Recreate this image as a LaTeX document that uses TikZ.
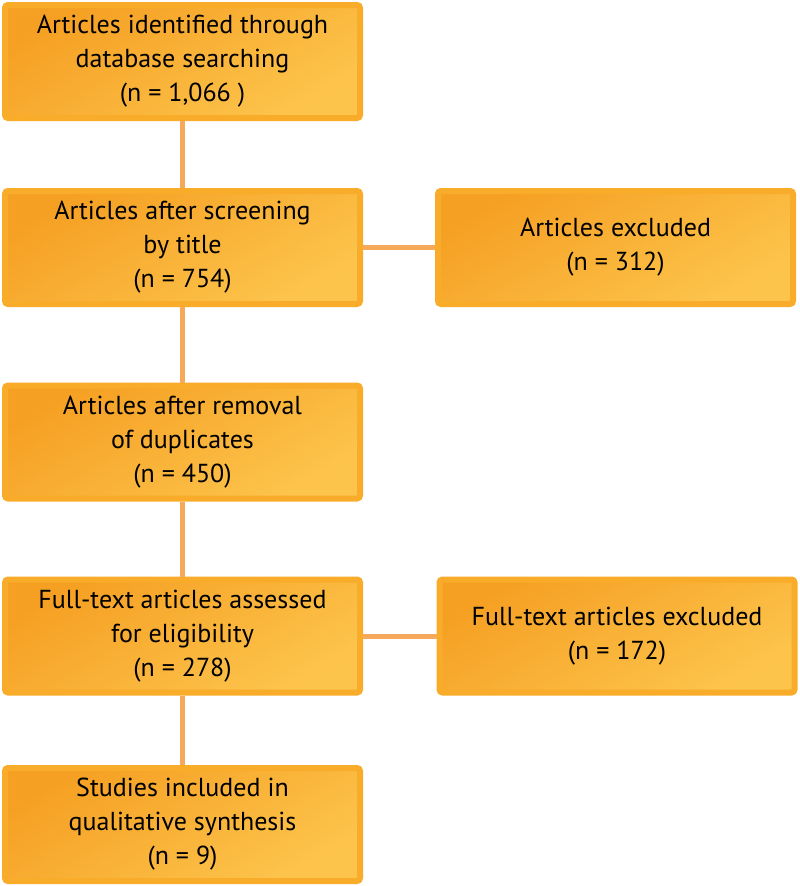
\documentclass[tikz,border=0pt]{standalone}
\usepackage{fontspec}
\setmainfont{PT Sans}
\usepackage{tikz}

\definecolor{frameorange}{HTML}{F9AB2A}
\definecolor{darkorange}{HTML}{F5A023}
\definecolor{lightorange}{HTML}{FDC44C}
\definecolor{linkorange}{HTML}{F6A95A}

\begin{document}
\begin{tikzpicture}[x=1pt, y=-1pt, align=center,
  stage/.style={rectangle, draw=frameorange, line width=6pt, rounded corners=3pt,
    top color=darkorange, bottom color=lightorange, shading angle=30,
    minimum width=355pt, minimum height=113pt, inner sep=0pt,
    font=\fontsize{26}{34}\selectfont},
  link/.style={draw=linkorange, line width=5pt}]

\useasboundingbox (0, 0) rectangle (800, 886);

\node [stage] (found) at (182.5, 61.5) {Articles identified through\\database searching\\(n = 1,066 )};
\node [stage] (screened) at (182.5, 247.5) {Articles after screening\\by title\\(n = 754)};
\node [stage] (dedup) at (182.5, 442) {Articles after removal\\of duplicates\\(n = 450)};
\node [stage] (fulltext) at (182.5, 636) {Full-text articles assessed\\for eligibility\\(n = 278)};
\node [stage] (included) at (182.5, 824.5) {Studies included in\\qualitative synthesis\\(n = 9)};
\node [stage] (excl) at (615.5, 247.5) {Articles excluded\\(n = 312)};
\node [stage] (ftexcl) at (617, 636) {Full-text articles excluded\\(n = 172)};

\draw [link] (found) -- (screened);
\draw [link] (screened) -- (dedup);
\draw [link] (dedup) -- (fulltext);
\draw [link] (fulltext) -- (included);
\draw [link] (screened) -- (excl);
\draw [link] (fulltext) -- (ftexcl);

\end{tikzpicture}
\end{document}
